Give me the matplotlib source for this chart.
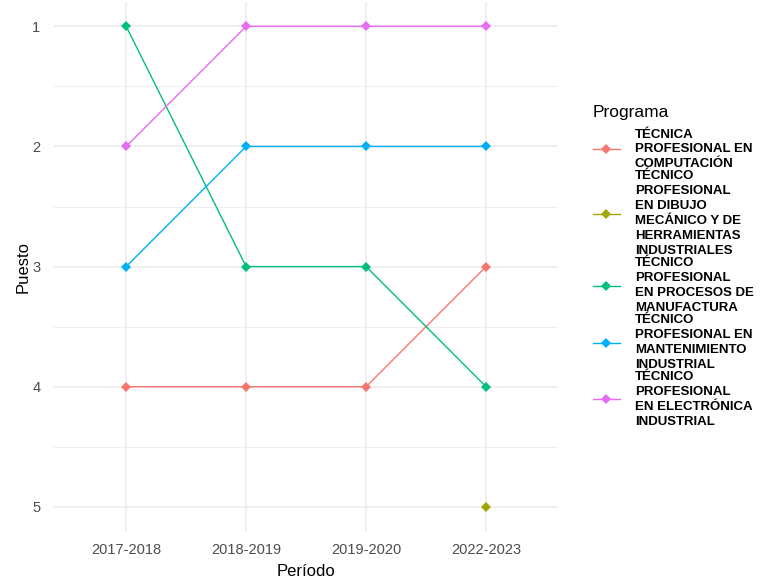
import matplotlib
matplotlib.use('Agg')
import matplotlib.pyplot as plt
import numpy as np

plt.rcParams['font.family'] = ['Liberation Sans', 'DejaVu Sans']

periodos = ['2017-2018', '2018-2019', '2019-2020', '2022-2023']
programas = [
    'TÉCNICA\nPROFESIONAL EN\nCOMPUTACIÓN',
    'TÉCNICO\nPROFESIONAL\nEN DIBUJO\nMECÁNICO Y DE\nHERRAMIENTAS\nINDUSTRIALES',
    'TÉCNICO\nPROFESIONAL\nEN PROCESOS DE\nMANUFACTURA',
    'TÉCNICO\nPROFESIONAL EN\nMANTENIMIENTO\nINDUSTRIAL',
    'TÉCNICO\nPROFESIONAL\nEN ELECTRÓNICA\nINDUSTRIAL',
]
computacion = [4, 4, 4, 3]
dibujo = [np.nan, np.nan, np.nan, 5]
manufactura = [1, 3, 3, 4]
mantenimiento = [3, 2, 2, 2]
electronica = [2, 1, 1, 1]
colores = ['#F8766D', '#A3A500', '#00BF7D', '#00B0F6', '#E76BF3']

series = [computacion, dibujo, manufactura, mantenimiento, electronica]

fig = plt.figure(figsize=(7.74, 5.84), dpi=100)
ax = fig.add_axes([0.070, 0.091, 0.651, 0.905])

x = np.arange(len(periodos))
for vals, lab, col in zip(series, programas, colores):
    ax.plot(x, vals, color=col, lw=1.0, marker='D', markersize=5,
            markeredgewidth=0, label=lab)

ax.set_xlim(-0.6, len(periodos) - 1 + 0.6)
ax.set_ylim(5.2, 0.8)
ax.set_xticks(x)
ax.set_xticklabels(periodos)
ax.set_yticks([1, 2, 3, 4, 5])
ax.set_yticks([1.5, 2.5, 3.5, 4.5], minor=True)

ax.grid(which='major', color='#EBEBEB', lw=1.1)
ax.grid(which='minor', axis='y', color='#EBEBEB', lw=0.6)
ax.set_axisbelow(True)
for s in ax.spines.values():
    s.set_visible(False)
ax.tick_params(which='both', length=0, labelsize=10.5, labelcolor='#4D4D4D')
ax.tick_params(axis='x', pad=9)
ax.tick_params(axis='y', pad=10)

ax.set_xlabel('Período', fontsize=12, labelpad=5)
ax.set_ylabel('Puesto', fontsize=12, labelpad=1)

leg = ax.legend(loc='center left', bbox_to_anchor=(1.045, 0.5), frameon=False,
                title='Programa', title_fontsize=12.5, labelspacing=0.0,
                handlelength=2.1, handletextpad=1.1,
                prop={'weight': 'bold', 'size': 9.5})
leg._legend_box.align = 'left'
leg._legend_box.sep = 6
for t in leg.get_texts():
    t.set_linespacing(1.33)

fig.savefig('out.png', dpi=100, facecolor='white')
